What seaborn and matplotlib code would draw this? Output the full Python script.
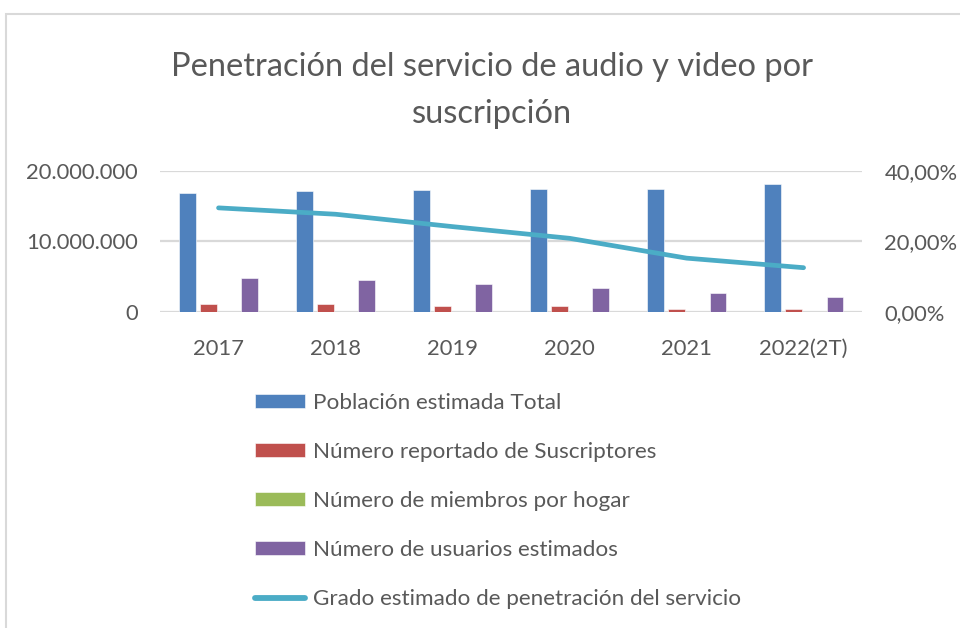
import pandas as pd
import matplotlib
matplotlib.use("Agg")
import matplotlib.pyplot as plt
import matplotlib.ticker as mticker
from matplotlib.patches import Patch, Rectangle
from matplotlib.lines import Line2D
import seaborn as sns
import numpy as np

years = ["2017", "2018", "2019", "2020", "2021", "2022(2T)"]
poblacion = [16850000, 17090000, 17270000, 17460000, 17460000, 18080000]
suscriptores = [1130000, 1130000, 890000, 890000, 510000, 510000]
miembros_hogar = [3.3, 3.3, 3.2, 3.2, 3.1, 3.1]
usuarios = [4780000, 4600000, 4000000, 3430000, 2680000, 2120000]
penetracion = [0.295, 0.277, 0.242, 0.209, 0.153, 0.126]

series_names = [
    "Población estimada Total",
    "Número reportado de Suscriptores",
    "Número de miembros por hogar",
    "Número de usuarios estimados",
]
line_name = "Grado estimado de penetración del servicio"
bar_colors = ["#4F81BD", "#C0504D", "#9BBB59", "#8064A2"]
line_color = "#4BACC6"
text_color = "#595959"
grid_color = "#D9D9D9"

df = pd.DataFrame({
    "Año": years * 4,
    "Serie": np.repeat(series_names, len(years)),
    "Valor": poblacion + suscriptores + miembros_hogar + usuarios,
})

sns.set_style("white")
plt.rcParams["font.family"] = ["Lato", "DejaVu Sans"]

fig = plt.figure(figsize=(9.6, 6.28), dpi=100)
ax = fig.add_axes([0.1667, 0.5027, 0.7313, 0.2255])

# outer chart border (light gray, like the Excel frame)
fig.patches.append(Rectangle((6 / 960, -0.05), 1.1, 1 - 14 / 628 + 0.05,
                             transform=fig.transFigure, fill=False,
                             edgecolor=grid_color, linewidth=1.5))

sns.barplot(
    data=df, x="Año", y="Valor", hue="Serie",
    hue_order=series_names, palette=bar_colors, saturation=1,
    width=0.716, gap=0.19, legend=False, ax=ax,
    edgecolor="white", linewidth=0.4, zorder=3,
)

ax.set_ylim(0, 20000000)
ax.set_yticks([0, 10000000, 20000000])
ax.yaxis.set_major_formatter(
    mticker.FuncFormatter(lambda v, p: f"{int(v):,}".replace(",", "."))
)
ax.set_xlim(-0.5, len(years) - 0.5)
ax.grid(axis="y", color=grid_color, linewidth=1.6, zorder=0)
ax.set_axisbelow(True)
ax.set_xlabel("")
ax.set_ylabel("")
for s in ax.spines.values():
    s.set_visible(False)
ax.tick_params(axis="both", length=0, labelsize=15.8, colors=text_color)
ax.tick_params(axis="x", pad=19)
ax.tick_params(axis="y", pad=16)

ax2 = ax.twinx()
sns.lineplot(
    x=np.arange(len(years)), y=penetracion, ax=ax2,
    color=line_color, linewidth=3.4, solid_capstyle="round", zorder=4,
)
ax2.set_ylim(0, 0.4)
ax2.set_yticks([0, 0.2, 0.4])
ax2.yaxis.set_major_formatter(
    mticker.FuncFormatter(lambda v, p: f"{v * 100:.2f}%".replace(".", ","))
)
for s in ax2.spines.values():
    s.set_visible(False)
ax2.tick_params(axis="y", length=0, labelsize=15.8, colors=text_color, pad=16)
ax2.set_ylabel("")

fig.text(0.5125, 1 - 76 / 628, "Penetración del servicio de audio y video por",
         ha="center", va="baseline", fontsize=23.5, color=text_color)
fig.text(0.5125, 1 - 123 / 628, "suscripción",
         ha="center", va="baseline", fontsize=23.5, color=text_color)

handles = [Patch(facecolor=c, edgecolor="white", linewidth=0.4) for c in bar_colors]
handles.append(Line2D([0], [0], color=line_color, linewidth=4.2, solid_capstyle="round"))
labels = series_names + [line_name]
fig.legend(
    handles, labels, loc="upper left",
    bbox_to_anchor=(255 / 960, 1 - 393 / 628),
    frameon=False, fontsize=16.2, labelcolor=text_color,
    handlelength=2.22, handleheight=0.6, handletextpad=0.36,
    labelspacing=1.29, borderaxespad=0, borderpad=0,
)

fig.savefig("out.png", dpi=100)
